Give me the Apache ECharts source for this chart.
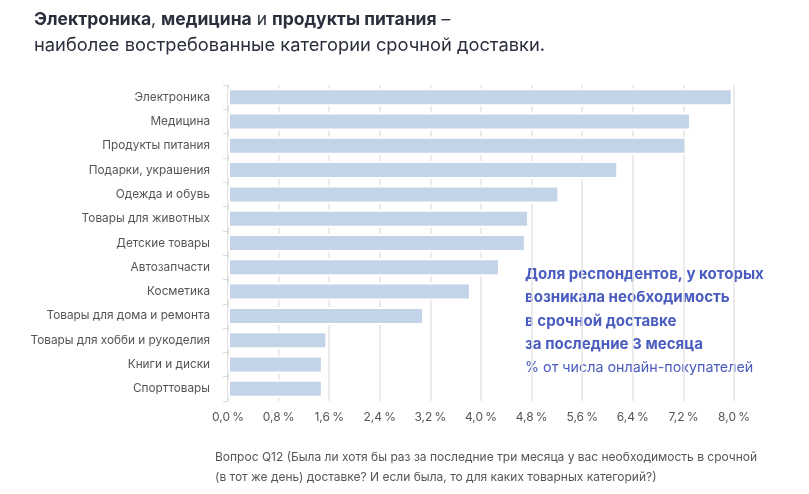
<!DOCTYPE html>
<html>
<head>
<meta charset="utf-8">
<script src="https://cdn.jsdelivr.net/npm/echarts@6/dist/echarts.min.js"></script>
<style>
html,body{margin:0;padding:0;background:#fff;}
#c{width:809px;height:494px;}
</style>
</head>
<body>
<div id="c"></div>
<script>
const categories = ['Электроника','Медицина','Продукты питания','Подарки, украшения','Одежда и обувь','Товары для животных','Детские товары','Автозапчасти','Косметика','Товары для дома и ремонта','Товары для хобби и рукоделия','Книги и диски','Спорттовары'];
const shares = [7.98, 7.32, 7.25, 6.17, 5.24, 4.76, 4.71, 4.30, 3.84, 3.10, 1.57, 1.50, 1.50];
const subtitle = 'наиболее востребованные категории срочной доставки.';
const noteLines = ['Доля респондентов, у которых','возникала необходимость','в срочной доставке','за последние 3 месяца'];
const noteUnit = '% от числа онлайн-покупателей';
const footnote = ['Вопрос Q12 (Была ли хотя бы раз за последние три месяца у вас необходимость в срочной','(в тот же день) доставке? И если была, то для каких товарных категорий?)'];

const FONT = 'Inter, "Noto Sans", sans-serif';
const chart = echarts.init(document.getElementById('c'), null, {renderer:'canvas'});
const texts = [];
texts.push({type:'text', x:34, y:20, style:{
  text:'{b|Электроника}{r|, }{b|медицина}{r| и }{b|продукты питания}{r| –}',
  rich:{b:{fontFamily:FONT,fontSize:17.5,fontWeight:'bold',fill:'#2b2f3d'}, r:{fontFamily:FONT,fontSize:17.5,fill:'#2b2f3d'}},
  verticalAlign:'middle'}});
texts.push({type:'text', x:34, y:46, style:{text:subtitle, fontFamily:FONT, fontSize:18.3, fill:'#2b2f3d', verticalAlign:'middle'}});
noteLines.forEach((t,i)=>texts.push({type:'text', x:525, y:274+i*23.5, style:{text:t, fontFamily:FONT, fontSize:15.1, fontWeight:'bold', fill:'#4a5cbf', verticalAlign:'middle'}}));
texts.push({type:'text', x:525, y:368, style:{text:noteUnit, fontFamily:FONT, fontSize:14.3, fill:'#4a5cbf', verticalAlign:'middle'}});
footnote.forEach((t,i)=>texts.push({type:'text', x:215, y:457+i*20, style:{text:t, fontFamily:FONT, fontSize:12, fill:'#555', verticalAlign:'middle'}}));

chart.setOption({
  animation:false,
  grid:{left:228, right:75, top:85, bottom:93, containLabel:false},
  xAxis:{type:'value', min:0, max:8, interval:0.8,
    axisLine:{show:false}, axisTick:{show:false},
    splitLine:{show:true, lineStyle:{color:'#e4e4e4', width:1.5}},
    axisLabel:{margin:10, color:'#555', fontFamily:FONT, fontSize:12,
      formatter:v=>v.toFixed(1).replace('.',',')+'\u2009%'}},
  yAxis:{type:'category', data:categories, inverse:true,
    axisLine:{show:true, lineStyle:{color:'#dcdcdc', width:1.5}},
    axisTick:{show:true, length:5, lineStyle:{color:'#dcdcdc'}},
    axisLabel:{margin:18, color:'#555', fontFamily:FONT, fontSize:11.8}},
  series:[{type:'bar', data:shares, barWidth:18,
    itemStyle:{color:'#c3d4e8', borderColor:'#ffffff', borderWidth:2}}],
  graphic:texts
});
</script>
</body>
</html>
